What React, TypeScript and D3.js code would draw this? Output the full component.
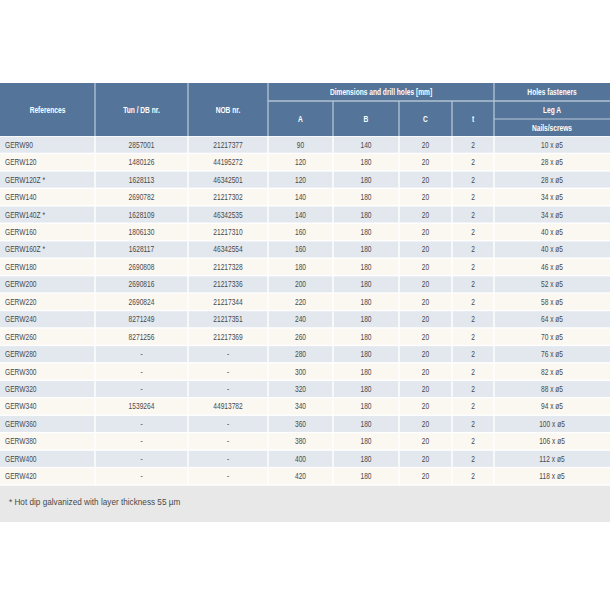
import React from "react";
import * as d3 from "d3";

const references = ["GERW90","GERW120","GERW120Z *","GERW140","GERW140Z *","GERW160","GERW160Z *","GERW180","GERW200","GERW220","GERW240","GERW260","GERW280","GERW300","GERW320","GERW340","GERW360","GERW380","GERW400","GERW420"];
const tunDb = ["2857001","1480126","1628113","2690782","1628109","1806130","1628117","2690808","2690816","2690824","8271249","8271256","-","-","-","1539264","-","-","-","-"];
const nob = ["21217377","44195272","46342501","21217302","46342535","21217310","46342554","21217328","21217336","21217344","21217351","21217369","-","-","-","44913782","-","-","-","-"];
const dimA = [90,120,120,140,140,160,160,180,200,220,240,260,280,300,320,340,360,380,400,420];
const dimB = [140,180,180,180,180,180,180,180,180,180,180,180,180,180,180,180,180,180,180,180];
const dimC = [20,20,20,20,20,20,20,20,20,20,20,20,20,20,20,20,20,20,20,20];
const dimT = [2,2,2,2,2,2,2,2,2,2,2,2,2,2,2,2,2,2,2,2];
const nails = ["10 x ø5","28 x ø5","28 x ø5","34 x ø5","34 x ø5","40 x ø5","40 x ø5","46 x ø5","52 x ø5","58 x ø5","64 x ø5","70 x ø5","76 x ø5","82 x ø5","88 x ø5","94 x ø5","100 x ø5","106 x ø5","112 x ø5","118 x ø5"];
const footnote = "* Hot dip galvanized with layer thickness 55 µm";

const colEdges = [0, 95, 188, 268, 333, 399, 452, 494, 610];

const HEADER = "#547599";
const ROW_A = "#e3e8ef";
const ROW_B = "#fbf7f1";
const TEXT = "#4a4a4a";
const FONT = "'Liberation Sans', Arial, Helvetica, sans-serif";
const SX = 0.78;

function T({ x, y, children, anchor = "middle", bold = false, fill = TEXT }: any) {
  return (
    <text
      transform={`translate(${x},${y}) scale(${SX},1)`}
      textAnchor={anchor}
      fontFamily={FONT}
      fontSize={8.5}
      fontWeight={bold ? "bold" : "normal"}
      fill={fill}
    >
      {children}
    </text>
  );
}

export default function App() {
  const W = 610, H = 610;
  const top = 83, h1 = 101, h2 = 119, headBottom = 136, bodyBottom = 485, footBottom = 522;
  const y = d3.scaleBand<string>().domain(references.map((_, i) => String(i))).range([headBottom, bodyBottom]).padding(0);
  const rows = references.map((r, i) => [r, tunDb[i], nob[i], String(dimA[i]), String(dimB[i]), String(dimC[i]), String(dimT[i]), nails[i]]);
  const cx = (c: number) => (colEdges[c] + colEdges[c + 1]) / 2;
  const gap = 0.7;
  const dy = 3;

  return (
    <svg width={W} height={H} style={{ position: "absolute", left: 0, top: 0, background: "#fff" }}>
      <rect x={0} y={top} width={W} height={headBottom - top} fill={HEADER} />
      <line x1={colEdges[3]} x2={colEdges[7]} y1={h1} y2={h1} stroke="#dfe7f0" strokeWidth={1.2} />
      <line x1={colEdges[7]} x2={W} y1={h1} y2={h1} stroke="#dfe7f0" strokeWidth={1.2} />
      <line x1={colEdges[7]} x2={W} y1={h2} y2={h2} stroke="#b9c8d8" strokeWidth={1.2} />
      {[1, 2, 3, 7].map(c => (
        <line key={"hv" + c} x1={colEdges[c]} x2={colEdges[c]} y1={top} y2={headBottom} stroke="#b4c5d6" strokeWidth={1.3} />
      ))}
      {[4, 5, 6].map(c => (
        <line key={"hv2" + c} x1={colEdges[c]} x2={colEdges[c]} y1={h1} y2={headBottom} stroke="#b4c5d6" strokeWidth={1.3} />
      ))}
      <T x={cx(0)} y={(top + headBottom) / 2 + dy} bold fill="#fff">References</T>
      <T x={cx(1)} y={(top + headBottom) / 2 + dy} bold fill="#fff">Tun / DB nr.</T>
      <T x={cx(2)} y={(top + headBottom) / 2 + dy} bold fill="#fff">NOB nr.</T>
      <T x={(colEdges[3] + colEdges[7]) / 2} y={(top + h1) / 2 + dy} bold fill="#fff">Dimensions and drill holes [mm]</T>
      <T x={cx(3)} y={(h1 + headBottom) / 2 + dy} bold fill="#fff">A</T>
      <T x={cx(4)} y={(h1 + headBottom) / 2 + dy} bold fill="#fff">B</T>
      <T x={cx(5)} y={(h1 + headBottom) / 2 + dy} bold fill="#fff">C</T>
      <T x={cx(6)} y={(h1 + headBottom) / 2 + dy} bold fill="#fff">t</T>
      <T x={cx(7)} y={(top + h1) / 2 + dy} bold fill="#fff">Holes fasteners</T>
      <T x={cx(7)} y={(h1 + h2) / 2 + dy} bold fill="#fff">Leg A</T>
      <T x={cx(7)} y={(h2 + headBottom) / 2 + dy} bold fill="#fff">Nails/screws</T>
      {rows.map((row, i) => {
        const y0 = y(String(i))!;
        const bh = y.bandwidth();
        return (
          <g key={i}>
            {row.map((_, c) => {
              const x0 = colEdges[c] + (c === 0 ? 0 : gap);
              const x1 = colEdges[c + 1] - (c === 7 ? 0 : gap);
              return <rect key={c} x={x0} y={y0 + gap} width={x1 - x0} height={bh - 2 * gap} fill={i % 2 === 0 ? ROW_A : ROW_B} />;
            })}
            {row.map((v, c) => (
              <T key={"t" + c} x={c === 0 ? 5 : cx(c)} y={y0 + bh / 2 + dy} anchor={c === 0 ? "start" : "middle"}>{v}</T>
            ))}
          </g>
        );
      })}
      <rect x={0} y={bodyBottom + gap} width={W} height={footBottom - bodyBottom - gap} fill="#e8e8e8" />
      <text x={9} y={505} fontFamily={FONT} fontSize={8.2} fill={TEXT}>{footnote}</text>
    </svg>
  );
}
